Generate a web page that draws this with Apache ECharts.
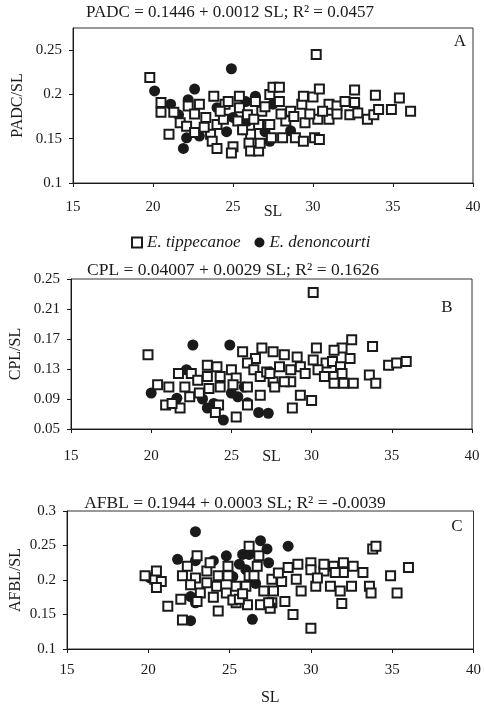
<!DOCTYPE html>
<html>
<head>
<meta charset="utf-8">
<script src="https://cdn.jsdelivr.net/npm/echarts@6/dist/echarts.min.js"></script>
<style>
html,body{margin:0;padding:0;background:#fff;}
#chart{width:484px;height:709px;}
</style>
</head>
<body>
<div id="chart"></div>
<script>
// ---------- data (SL, ratio) ----------
const seriesNames = ['E. tippecanoe', 'E. denoncourti'];
const xTicks = [15, 20, 25, 30, 35, 40];

// Panel A: PADC/SL
const padcTippecanoe = [
  [19.8,0.219],[20.5,0.191],[20.5,0.180],[21.3,0.180],[21.0,0.155],[21.7,0.168],[22.2,0.187],[22.1,0.164],
  [22.9,0.189],[22.6,0.157],[23.3,0.174],[23.6,0.155],[23.8,0.198],[23.7,0.147],[24.0,0.139],[24.0,0.166],
  [24.4,0.172],[24.5,0.189],[24.7,0.192],[25.0,0.141],[24.9,0.134],[25.4,0.185],[25.4,0.198],[25.9,0.177],
  [26.1,0.155],[26.0,0.145],[26.1,0.136],[26.6,0.136],[26.7,0.145],[26.4,0.192],[26.8,0.181],[26.6,0.166],
  [27.2,0.166],[27.3,0.200],[27.5,0.208],[30.2,0.245],[27.9,0.208],[27.9,0.192],[28.6,0.181],[28.3,0.170],
  [29.3,0.189],[29.4,0.198],[30.0,0.197],[30.4,0.206],[29.5,0.168],[30.3,0.172],[31.0,0.172],[31.0,0.189],
  [30.6,0.181],[31.5,0.187],[32.0,0.192],[32.6,0.205],[32.6,0.191],[32.3,0.177],[32.8,0.179],[33.4,0.172],
  [33.8,0.177],[34.1,0.183],[33.9,0.199],[34.9,0.183],[35.4,0.196],[36.1,0.181],[28.1,0.151],[28.9,0.151],
  [29.4,0.147],[30.1,0.151],[30.4,0.149],[27.3,0.166],[27.4,0.151],[22.6,0.178],[23.2,0.163],[24.2,0.181],
  [25.3,0.170],[25.6,0.160],[26.3,0.172],[27.0,0.186],[28.0,0.178],[28.8,0.175],[29.8,0.178],[31.5,0.178]
];
const padcDenoncourti = [
  [24.9,0.229],[20.1,0.204],[21.1,0.189],[22.6,0.206],[22.2,0.194],[21.9,0.139],[22.1,0.151],[22.9,0.153],
  [24.0,0.185],[24.6,0.158],[25.0,0.174],[25.8,0.192],[25.9,0.170],[26.4,0.198],[27.0,0.158],[27.3,0.147],
  [27.5,0.189],[28.6,0.159],[21.6,0.177],[25.6,0.160]
];

// Panel B: CPL/SL
const cplTippecanoe = [
  [19.8,0.149],[23.5,0.135],[24.1,0.133],[25.7,0.153],[26.9,0.158],[26.5,0.144],[21.7,0.124],[22.5,0.124],
  [22.9,0.115],[23.5,0.120],[24.3,0.120],[25.0,0.129],[25.3,0.118],[26.0,0.138],[26.4,0.129],[26.8,0.120],
  [27.2,0.126],[20.4,0.109],[21.1,0.106],[22.1,0.106],[22.4,0.093],[23.0,0.098],[20.9,0.082],[23.6,0.104],
  [24.3,0.106],[25.1,0.109],[26.0,0.106],[26.8,0.095],[27.6,0.113],[24.2,0.082],[26.0,0.082],[30.1,0.232],
  [32.5,0.169],[33.8,0.160],[31.9,0.158],[31.4,0.155],[30.3,0.158],[29.1,0.146],[28.3,0.149],[27.6,0.153],
  [30.1,0.142],[30.9,0.138],[31.3,0.140],[32.4,0.144],[31.8,0.133],[28.0,0.133],[28.7,0.129],[29.3,0.133],
  [29.6,0.124],[30.4,0.129],[30.8,0.120],[31.4,0.120],[31.9,0.124],[31.4,0.111],[32.0,0.111],[32.6,0.111],
  [33.6,0.122],[34.0,0.111],[34.8,0.135],[35.3,0.138],[35.9,0.140],[28.7,0.113],[29.3,0.095],[30.0,0.088],
  [28.8,0.078],[27.4,0.124],[27.7,0.106],[28.3,0.113],[21.8,0.078],[25.3,0.066],[24.0,0.072],[21.3,0.084]
];
const cplDenoncourti = [
  [22.6,0.162],[24.9,0.162],[22.2,0.129],[20.0,0.098],[21.6,0.091],[23.9,0.084],[25.4,0.093],[25.8,0.106],
  [27.4,0.126],[24.5,0.062],[26.7,0.072],[27.3,0.071],[26.0,0.085],[23.5,0.078],[25.0,0.098],[23.2,0.090]
];

// Panel C: AFBL/SL
const afblTippecanoe = [
  [19.8,0.206],[20.4,0.201],[20.8,0.198],[20.5,0.213],[20.5,0.189],[22.4,0.220],[23.0,0.235],[22.1,0.206],
  [22.9,0.203],[22.6,0.193],[23.6,0.213],[23.6,0.196],[24.3,0.206],[24.2,0.191],[24.9,0.220],[24.9,0.206],
  [25.4,0.191],[26.0,0.191],[26.2,0.249],[26.2,0.206],[26.5,0.206],[26.7,0.220],[26.8,0.235],[27.1,0.184],
  [27.6,0.201],[23.2,0.181],[22.0,0.172],[23.0,0.169],[21.2,0.162],[24.8,0.181],[25.4,0.167],[26.9,0.164],
  [27.6,0.167],[22.1,0.142],[24.3,0.155],[26.1,0.164],[27.5,0.159],[28.9,0.150],[30.0,0.130],[31.9,0.166],
  [25.2,0.171],[25.6,0.172],[33.8,0.245],[34.0,0.249],[36.0,0.218],[34.9,0.206],[35.3,0.181],[33.6,0.191],
  [33.7,0.181],[33.2,0.211],[32.6,0.220],[32.0,0.225],[32.0,0.211],[32.5,0.191],[31.8,0.184],[31.4,0.220],
  [31.5,0.211],[31.2,0.191],[30.8,0.213],[30.8,0.223],[30.3,0.191],[30.0,0.225],[30.0,0.215],[30.4,0.203],
  [29.2,0.223],[28.6,0.218],[29.1,0.201],[29.4,0.184],[28.2,0.198],[27.7,0.184],[28.4,0.169],[27.4,0.167],
  [24.0,0.175],[25.8,0.180],[28.0,0.210],[23.8,0.225]
];
const afblDenoncourti = [
  [22.9,0.270],[26.9,0.257],[27.3,0.245],[21.8,0.230],[22.9,0.228],[24.0,0.228],[24.8,0.235],[25.8,0.237],
  [26.2,0.237],[25.6,0.223],[27.4,0.225],[22.6,0.176],[22.9,0.167],[20.1,0.203],[22.6,0.141],[26.4,0.143],
  [28.6,0.249],[26.0,0.215],[25.2,0.205],[26.6,0.195]
];

// tick labels
const yTicksA = [0.1, 0.15, 0.2, 0.25];
const yTicksB = [0.05, 0.09, 0.13, 0.17, 0.21, 0.25];
const yTicksC = [0.1, 0.15, 0.2, 0.25, 0.3];

const titles = [
  'PADC = 0.1446 + 0.0012 SL; R\u00b2 = 0.0457',
  'CPL = 0.04007 + 0.0029 SL; R\u00b2 = 0.1626',
  'AFBL = 0.1944 + 0.0003 SL; R\u00b2 = -0.0039'
];
const yNames = ['PADC/SL', 'CPL/SL', 'AFBL/SL'];
const panelLetters = ['A', 'B', 'C'];

// ---------- chart ----------
const FONT = '"Liberation Serif", "Times New Roman", serif';
const INK = '#1a1a1a';

const grids = [
  {left: 73, right: 11, top: 28, height: 155},
  {left: 70, right: 12, top: 279, height: 150},
  {left: 66, right: 8, top: 511, height: 138}
];
const yRanges = [[0.1, 0.275, yTicksA], [0.05, 0.25, yTicksB], [0.1, 0.3, yTicksC]];
const xLabelMargin = [17, 20, 14];
const xNameGap = [21, 20, 41];
const yNameGap = [47, 47, 43];

const xAxes = grids.map((g, i) => ({
  type: 'value', gridIndex: i, min: 15, max: 40, interval: 5,
  name: 'SL', nameLocation: 'middle', nameGap: xNameGap[i], nameMoveOverlap: false,
  nameTextStyle: {fontFamily: FONT, fontSize: 16, color: INK},
  axisLine: {show: true, lineStyle: {color: INK, width: 1}},
  axisTick: {show: true, inside: false, length: 4, customValues: xTicks, lineStyle: {color: INK}},
  axisLabel: {customValues: xTicks, margin: xLabelMargin[i], fontFamily: FONT, fontSize: 15, color: INK},
  splitLine: {show: false}
}));

const yAxes = grids.map((g, i) => ({
  type: 'value', gridIndex: i, min: yRanges[i][0], max: yRanges[i][1],
  name: yNames[i], nameLocation: 'middle', nameGap: yNameGap[i], nameMoveOverlap: false,
  nameTextStyle: {fontFamily: FONT, fontSize: 16, color: INK},
  axisLine: {show: true, lineStyle: {color: INK, width: 1}},
  axisTick: {show: true, inside: false, length: 4, customValues: yRanges[i][2], lineStyle: {color: INK}},
  axisLabel: {customValues: yRanges[i][2], margin: 11, fontFamily: FONT, fontSize: 15, color: INK,
    formatter: v => String(+(+v).toFixed(3))},
  splitLine: {show: false}
}));

const panelData = [
  [padcTippecanoe, padcDenoncourti],
  [cplTippecanoe, cplDenoncourti],
  [afblTippecanoe, afblDenoncourti]
];

const series = [];
panelData.forEach((pd, i) => {
  series.push({
    name: seriesNames[1], type: 'scatter', xAxisIndex: i, yAxisIndex: i,
    data: pd[1], symbol: 'circle', symbolSize: 11,
    itemStyle: {color: INK, opacity: 1},
    emphasis: {disabled: true}, z: 2
  });
  series.push({
    name: seriesNames[0], type: 'scatter', xAxisIndex: i, yAxisIndex: i,
    data: pd[0], symbol: 'rect', symbolSize: 9,
    itemStyle: {color: '#fff', borderColor: INK, borderWidth: 2, opacity: 1},
    emphasis: {disabled: true}, z: 3
  });
});

const titleY = [13, 270, 503];
const titleX = [230, 233, 235];
const titleSize = [17, 17.5, 17.5];
const letterPos = [[460, 42], [447, 308], [457, 527]];
const graphics = [];
titles.forEach((t, i) => {
  graphics.push({type: 'text', x: titleX[i], y: titleY[i], silent: true,
    style: {text: t, font: titleSize[i] + 'px ' + FONT, fill: INK, textAlign: 'center', textVerticalAlign: 'middle'}});
  graphics.push({type: 'text', x: letterPos[i][0], y: letterPos[i][1], silent: true,
    style: {text: panelLetters[i], font: '17px ' + FONT, fill: INK, textAlign: 'center', textVerticalAlign: 'middle'}});
});

const chart = echarts.init(document.getElementById('chart'), null, {renderer: 'canvas'});
chart.setOption({
  animation: false,
  backgroundColor: '#fff',
  grid: grids.map(g => Object.assign({show: true, borderColor: '#333', borderWidth: 1, backgroundColor: 'transparent'}, g)),
  xAxis: xAxes,
  yAxis: yAxes,
  legend: {
    left: 126, top: 229, itemWidth: 10, itemHeight: 10, itemGap: 14,
    selectedMode: false,
    data: [{name: seriesNames[0], icon: 'rect'}, {name: seriesNames[1], icon: 'circle'}],
    textStyle: {fontFamily: FONT, fontSize: 17, fontStyle: 'italic', color: INK}
  },
  graphic: graphics,
  series: series
});
</script>
</body>
</html>
